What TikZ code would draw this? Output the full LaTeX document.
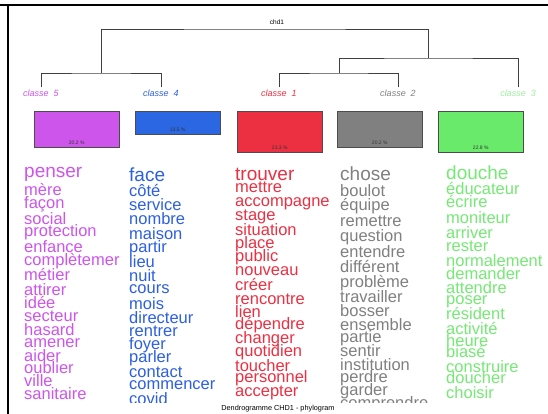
\documentclass[tikz,border=0pt]{standalone}
\usepackage{fontspec}
\setmainfont{Liberation Sans}
\usepackage{tikz}
\usetikzlibrary{positioning, calc}
\definecolor{violetcl}{RGB}{205,85,235}
\definecolor{bluecl}{RGB}{45,95,225}
\definecolor{redcl}{RGB}{236,48,66}
\definecolor{graycl}{RGB}{128,128,128}
\definecolor{greencl}{RGB}{118,232,118}
\tikzset{
    branch/.style={draw=black!75, line width=0.7pt},
    classlabel/.append style={font=\fontsize{9}{9}\selectfont\itshape, inner sep=2pt},
    pbox/.style={draw=black!70, line width=0.5pt, anchor=north west, minimum width=85pt, inner sep=0pt},
    pct/.style={font=\fontsize{5}{5}\selectfont, text=black!80, inner sep=0pt, above=3pt},
    word/.style={anchor=base west, inner sep=0pt, font=\fontsize{16.5}{16.5}\selectfont},
    firstword/.style={word, font=\fontsize{19}{19}\selectfont},
}

\begin{document}
\begin{tikzpicture}[x=1pt, y=-1pt]
    \useasboundingbox (0,0) rectangle (548,414);
    \fill[white] (0,0) rectangle (548,414);

    % screenshot frame
    \draw[line width=2pt] (0,5) -- (548,5);
    \draw[line width=2pt] (7.5,5) -- (7.5,414);

    % dendrogram
    \node[font=\fontsize{6.5}{6.5}\selectfont] (chd) at (277,22) {chd1};
    \node[classlabel, text=violetcl] (c5) at (41,93) {classe\ \ 5};
    \node[classlabel, text=bluecl] (c4) at (161,93) {classe\ \ 4};
    \node[classlabel, text=redcl] (c1) at (279,93) {classe\ \ 1};
    \node[classlabel, text=graycl] (c2) at (398,93) {classe\ \ 2};
    \node[classlabel, text=greencl!70] (c3) at (518,93) {classe\ \ 3};
    \coordinate (j54) at (101,73);
    \coordinate (j12) at (339,73);
    \coordinate (j123) at (428,58);
    \coordinate (root) at (264.5,29);

    \draw[branch] (c5.north) |- (j54) -| (c4.north);
    \draw[branch] (c1.north) |- (j12) -| (c2.north);
    \draw[branch] (j12) |- (j123) -| (c3.north);
    \draw[branch] (j54) |- (root) -| (j123);

    % class sizes
    \node[pbox, fill=violetcl, minimum height=36pt] (b5) at (34,111) {};
    \node[pbox, fill=bluecl!95!cyan, minimum height=23pt] (b4) at (135,111) {};
    \node[pbox, fill=redcl, minimum height=41pt] (b1) at (237,111) {};
    \node[pbox, fill=graycl, minimum height=36pt] (b2) at (337,111) {};
    \node[pbox, fill=greencl!90!green, minimum height=41pt] (b3) at (438,111) {};
    \node[pct] (p5) at (b5.south) {20.2 \%};
    \node[pct] (p4) at (b4.south) {13.5 \%};
    \node[pct] (p1) at (b1.south) {23.3 \%};
    \node[pct] (p2) at (b2.south) {20.2 \%};
    \node[pct] (p3) at (b3.south) {22.8 \%};

    % word lists
    \begin{scope}
      \clip (0,0) rectangle (548,402);
      \node[firstword, text=violetcl] (w5) at (24,177) {penser};
      \foreach \w/\y [count=\i] in {mère/195, façon/208, social/224, protection/236,
          enfance/252, complètemer/265, métier/280, attirer/295, idée/308, secteur/321,
          hasard/335, amener/347, aider/361, oublier/373, ville/386, sanitaire/399}
        \node[word, text=violetcl] (w5-\i) at (24,\y) {\w};

      \node[firstword, text=bluecl] (w4) at (129,181) {face};
      \foreach \w/\y [count=\i] in {côté/196, service/210, nombre/224, maison/239,
          partir/252, lieu/267, nuit/281, cours/293, mois/309, directeur/323,
          rentrer/336, foyer/349, parler/362, contact/377, commencer/389, covid/404}
        \node[word, text=bluecl] (w4-\i) at (129,\y) {\w};

      \node[firstword, text=redcl] (w1) at (235,180) {trouver};
      \foreach \w/\y [count=\i] in {mettre/193, accompagne/206, stage/220, situation/235,
          place/248, public/261, nouveau/275, créer/290, rencontre/304, lien/317,
          dépendre/329, changer/343, quotidien/356, toucher/371, personnel/382,
          accepter/396}
        \node[word, text=redcl] (w1-\i) at (235,\y) {\w};

      \node[firstword, text=graycl] (w2) at (340,180) {chose};
      \foreach \w/\y [count=\i] in {boulot/196, équipe/210, remettre/226, question/241,
          entendre/257, différent/272, problème/287, travailler/302, bosser/316,
          ensemble/330, partie/342, sentir/356, institution/370, perdre/382,
          garder/395, comprendre/408}
        \node[word, text=graycl] (w2-\i) at (340,\y) {\w};

      \node[firstword, text=greencl] (w3) at (446,179) {douche};
      \foreach \w/\y [count=\i] in {éducateur/194, écrire/207, moniteur/223, arriver/238,
          rester/251, normalement/266, demander/279, attendre/293, poser/304,
          résident/319, activité/334, heure/346, biasé/357, construire/372,
          doucher/383, choisir/398}
        \node[word, text=greencl] (w3-\i) at (446,\y) {\w};
    \end{scope}

    % caption
    \node[font=\fontsize{7.3}{7.3}\selectfont, inner sep=0pt] (cap) at (278,409) {Dendrogramme CHD1 - phylogram};
\end{tikzpicture}
\end{document}
